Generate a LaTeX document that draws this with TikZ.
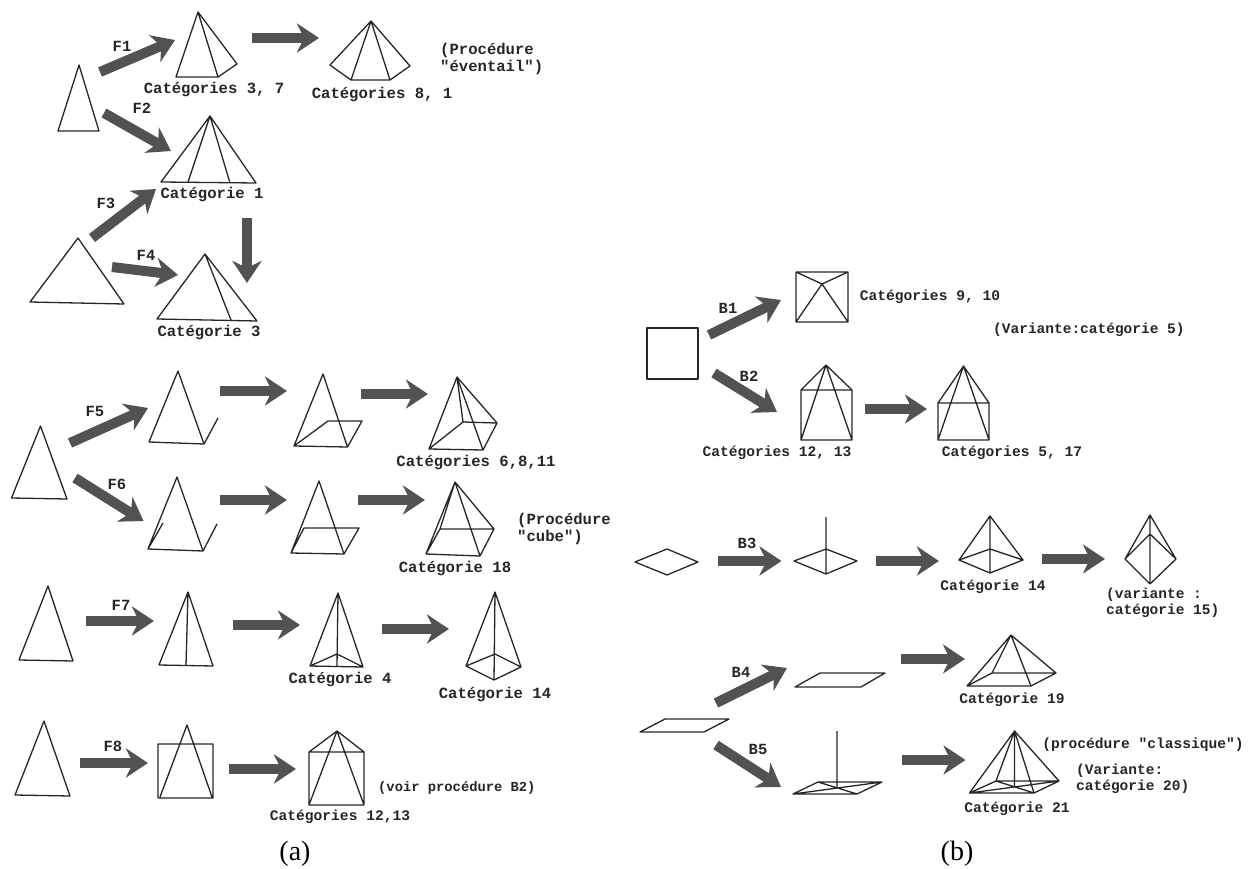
\documentclass[tikz,border=0pt]{standalone}
\usepackage{fontspec}
\setmainfont{Liberation Serif}
\setmonofont{Liberation Mono}
\usetikzlibrary{arrows.meta}

\tikzset{
  edgeline/.style={line width=1.3pt,draw=black!85,line join=round},
  fatarrow/.style={line width=10pt,draw=black!68,-{Stealth[length=22pt,width=29pt,inset=7pt]}},
  cattext/.style={font=\ttfamily\bfseries\fontsize{15.6}{17}\selectfont,text=black!85,inner sep=0pt},
  cattextb/.style={font=\ttfamily\bfseries\fontsize{14.6}{16}\selectfont,text=black!85,inner sep=0pt},
  notetext/.style={font=\ttfamily\bfseries\fontsize{14.5}{16}\selectfont,text=black!85,inner sep=0pt,align=left,anchor=west},
  notebig/.style={notetext,font=\ttfamily\bfseries\fontsize{15.6}{17.5}\selectfont},
  notesmall/.style={notetext,font=\ttfamily\bfseries\fontsize{13.8}{16}\selectfont},
  steptext/.style={font=\ttfamily\bfseries\fontsize{15.5}{17}\selectfont,text=black!85,inner sep=0pt},
  captext/.style={font=\fontsize{28}{30}\selectfont,inner sep=0pt}
}

\begin{document}
\begin{tikzpicture}[x=1pt,y=-1pt]
    \useasboundingbox (0,0) rectangle (1250,869);

    % panel (a), top group
    \draw[edgeline] (79,65) -- (58,131) -- (99,131) -- cycle;
    \coordinate (f1a) at (100,72); \coordinate (f1b) at (175,40);
    \draw[fatarrow] (f1a) -- (f1b);
    \node[steptext] (labF1) at (122,46) {F1};
    \draw[edgeline] (198,12) -- (176,77) -- (218,77) -- (237,64) -- cycle (198,12) -- (218,77);
    \node[cattext] (cat37) at (214,90) {Catégories 3, 7};
    \coordinate (g1a) at (252,38); \coordinate (g1b) at (319,38);
    \draw[fatarrow] (g1a) -- (g1b);
    \draw[edgeline] (371,21) -- (330,65) -- (351,80) -- (390,80) -- (410,66) -- cycle (351,80) -- (371,21) -- (390,80);
    \node[cattext] (cat81) at (382,95) {Catégories 8, 1};
    \node[notebig] (noteFan) at (440,59) {(Procédure\\"éventail")};

    \coordinate (f2a) at (104,113); \coordinate (f2b) at (171,151);
    \draw[fatarrow] (f2a) -- (f2b);
    \node[steptext] (labF2) at (142,108) {F2};
    \draw[edgeline] (210,116) -- (161,182) -- (256,183) -- cycle (188,182) -- (210,116) -- (230,183);
    \node[cattext] (cat1) at (212,195) {Catégorie 1};

    \draw[edgeline] (78,238) -- (30,302) -- (124,304) -- cycle;
    \coordinate (f3a) at (92,238); \coordinate (f3b) at (156,189);
    \draw[fatarrow] (f3a) -- (f3b);
    \node[steptext] (labF3) at (106,203) {F3};
    \coordinate (f4a) at (112,267); \coordinate (f4b) at (178,275);
    \draw[fatarrow] (f4a) -- (f4b);
    \node[steptext] (labF4) at (146,255) {F4};
    \coordinate (g2a) at (247,218); \coordinate (g2b) at (247,283);
    \draw[fatarrow] (g2a) -- (g2b);
    \draw[edgeline] (205,254) -- (157,319) -- (257,321) -- cycle (205,254) -- (231,320);
    \node[cattext] (cat3) at (209,332) {Catégorie 3};

    % panel (a), F5 and F6
    \draw[edgeline] (40.5,426) -- (11.5,498) -- (67,499) -- cycle;
    \coordinate (f5a) at (70,443); \coordinate (f5b) at (148,408);
    \draw[fatarrow] (f5a) -- (f5b);
    \node[steptext] (labF5) at (95,411) {F5};
    \draw[edgeline] (178,371) -- (149,442) -- (204,444) -- cycle (204,444) -- (218,418);
    \coordinate (g3a) at (220,391); \coordinate (g3b) at (287,391);
    \draw[fatarrow] (g3a) -- (g3b);
    \draw[edgeline] (323,374) -- (294,446) -- (347.5,447) -- cycle (294,446) -- (328,421) -- (362,421) -- (347.5,447);
    \coordinate (g4a) at (361,394); \coordinate (g4b) at (428,394);
    \draw[fatarrow] (g4a) -- (g4b);
    \draw[edgeline] (457,377) -- (429,449) -- (483,450) -- cycle (457,377) -- (497,423) -- (483,450)
      (457,377) -- (463,422) -- (429,449) (463,422) -- (497,423);
    \node[cattext] (cat6811) at (476,462) {Catégories 6,8,11};

    \coordinate (f6a) at (75,478); \coordinate (f6b) at (143.5,521);
    \draw[fatarrow] (f6a) -- (f6b);
    \node[steptext] (labF6) at (117,484) {F6};
    \draw[edgeline] (177,477) -- (148,549) -- (203,551) -- cycle (203,551) -- (217,524) (148,549) -- (163,523);
    \coordinate (g5a) at (220,500); \coordinate (g5b) at (287,500);
    \draw[fatarrow] (g5a) -- (g5b);
    \draw[edgeline] (319,481) -- (291,553) -- (344,554) -- cycle (291,553) -- (304,528) -- (359,528) -- (344,554);
    \coordinate (g6a) at (358,500); \coordinate (g6b) at (425,500);
    \draw[fatarrow] (g6a) -- (g6b);
    \draw[edgeline] (455,482) -- (426,554) -- (480,556) -- cycle (455,482) -- (494,529) -- (480,556)
      (455,482) -- (440,529) -- (426,554) (440,529) -- (494,529);
    \node[cattext] (cat18) at (455,568) {Catégorie 18};
    \node[notebig] (noteCube) at (517,529) {(Procédure\\"cube")};

    % panel (a), F7 and F8
    \draw[edgeline] (48,586) -- (19,660) -- (73,661) -- cycle;
    \coordinate (f7a) at (86,621); \coordinate (f7b) at (154,621);
    \draw[fatarrow] (f7a) -- (f7b);
    \node[steptext] (labF7) at (121,605) {F7};
    \draw[edgeline] (188,592) -- (159,665) -- (213,666) -- cycle (188,592) -- (186,666);
    \coordinate (g7a) at (233,625); \coordinate (g7b) at (300,625);
    \draw[fatarrow] (g7a) -- (g7b);
    \draw[edgeline] (338,593) -- (310,666) -- (363,667) -- cycle (338,593) -- (337,666) (310,666) -- (337,654) -- (363,667);
    \node[cattext] (cat4) at (340,679) {Catégorie 4};
    \coordinate (g8a) at (382,629); \coordinate (g8b) at (449,629);
    \draw[fatarrow] (g8a) -- (g8b);
    \draw[edgeline] (495,592) -- (466,666) -- (494,680) -- (521,667) -- cycle (495,592) -- (494,680) (466,666) -- (495,654) -- (521,667);
    \node[cattext] (cat14a) at (495,694) {Catégorie 14};

    \draw[edgeline] (44,721) -- (15,795) -- (70,796) -- cycle;
    \coordinate (f8a) at (80,763); \coordinate (f8b) at (148,763);
    \draw[fatarrow] (f8a) -- (f8b);
    \node[steptext] (labF8) at (113,746) {F8};
    \draw[edgeline] (158,744) rectangle (213,798) (160,797) -- (187,725) -- (212,797);
    \coordinate (g9a) at (229,769); \coordinate (g9b) at (296,769);
    \draw[fatarrow] (g9a) -- (g9b);
    \draw[edgeline] (309,752) rectangle (364,805) (309,752) -- (337,731) -- (364,752) (309,805) -- (337,731) -- (364,805);
    \node[notesmall] (noteB2) at (378,788) {(voir procédure B2)};
    \node[cattextb] (cat1213a) at (340,817) {Catégories 12,13};
    \node[captext] (capA) at (295,854) {(a)};

    % panel (b), B1 and B2
    \draw[edgeline] (647,328) rectangle (698,379);
    \coordinate (b1a) at (709,335); \coordinate (b1b) at (781,300);
    \draw[fatarrow] (b1a) -- (b1b);
    \node[steptext] (labB1) at (728,308) {B1};
    \draw[edgeline] (796,272) rectangle (848,322) (796,272) -- (822,284) -- (848,272) (796,322) -- (822,284) -- (848,322);
    \node[cattextb] (cat910) at (930,297) {Catégories 9, 10};
    \node[notetext] (noteVar5) at (993,330) {(Variante:catégorie 5)};
    \coordinate (b2a) at (714,373); \coordinate (b2b) at (777,412);
    \draw[fatarrow] (b2a) -- (b2b);
    \node[steptext] (labB2) at (749,376) {B2};
    \draw[edgeline] (801,390) rectangle (852,440) (801,390) -- (826,365) -- (852,390) (801,440) -- (826,365) -- (852,440);
    \node[cattextb] (cat1213b) at (777,453) {Catégories 12, 13};
    \coordinate (h1a) at (865,409); \coordinate (h1b) at (927,409);
    \draw[fatarrow] (h1a) -- (h1b);
    \draw[edgeline] (938,403) rectangle (989,440) (938,403) -- (963.5,366) -- (989,403) (938,440) -- (963.5,366) -- (989,440);
    \node[cattextb] (cat517) at (1012,453) {Catégories 5, 17};

    % panel (b), B3
    \draw[edgeline] (635,562) -- (667,549) -- (698,562) -- (667,575) -- cycle;
    \coordinate (b3a) at (718,561); \coordinate (b3b) at (781.5,561);
    \draw[fatarrow] (b3a) -- (b3b);
    \node[steptext] (labB3) at (747,543) {B3};
    \draw[edgeline] (794,561) -- (826,549) -- (857,561) -- (826,574) -- cycle (826,517) -- (826,574);
    \coordinate (h2a) at (876,561); \coordinate (h2b) at (939,561);
    \draw[fatarrow] (h2a) -- (h2b);
    \draw[edgeline] (990,516) -- (959,560) -- (990,573) -- (1023,560) -- cycle (990,516) -- (990,573) (959,560) -- (990,549) -- (1023,560);
    \node[cattextb] (cat14b) at (993,587) {Catégorie 14};
    \coordinate (h3a) at (1042,559); \coordinate (h3b) at (1105,559);
    \draw[fatarrow] (h3a) -- (h3b);
    \draw[edgeline] (1150,515) -- (1125,559) -- (1150,584) -- (1176,559) -- cycle (1150,515) -- (1150,584) (1125,559) -- (1150,534) -- (1176,559);
    \node[notetext] (noteVar15) at (1106,603) {(variante :\\catégorie 15)};

    % panel (b), B4 and B5
    \draw[edgeline] (640,732) -- (704,732) -- (729,719) -- (665,719) -- cycle;
    \coordinate (b4a) at (716,703); \coordinate (b4b) at (787,668);
    \draw[fatarrow] (b4a) -- (b4b);
    \node[steptext] (labB4) at (741,672) {B4};
    \draw[edgeline] (795,687) -- (861,687) -- (885,673) -- (820,673) -- cycle;
    \coordinate (h4a) at (901,659); \coordinate (h4b) at (965,659);
    \draw[fatarrow] (h4a) -- (h4b);
    \draw[edgeline] (967,686) -- (1031,686) -- (1056,673) -- (992,673) -- cycle
      (967,686) -- (1011,635) -- (1056,673) (992,673) -- (1011,635) -- (1031,686);
    \node[cattextb] (cat19) at (1012,700) {Catégorie 19};

    \coordinate (b5a) at (716,745); \coordinate (b5b) at (781,787);
    \draw[fatarrow] (b5a) -- (b5b);
    \node[steptext] (labB5) at (758,749) {B5};
    \draw[edgeline] (793,794) -- (857,794) -- (882,782) -- (818,782) -- cycle
      (818,782) -- (857,794) (793,794) -- (882,782) (837,731) -- (837,787);
    \coordinate (h5a) at (902,760); \coordinate (h5b) at (965.5,760);
    \draw[fatarrow] (h5a) -- (h5b);
    \draw[edgeline] (969.5,793) -- (1034,793) -- (1059,781) -- (996,781) -- cycle
      (996,781) -- (1034,793) (969.5,793) -- (1059,781)
      (969.5,793) -- (1014.5,731) -- (1059,781) (996,781) -- (1014.5,731) -- (1034,793) (1014.5,731) -- (1014.5,787);
    \node[cattextb] (noteClassic) at (1143,745) {(procédure "classique")};
    \node[notetext] (noteVar20) at (1076,779) {(Variante:\\catégorie 20)};
    \node[cattextb] (cat21) at (1017,809) {Catégorie 21};
    \node[captext] (capB) at (957,854) {(b)};
  \end{tikzpicture}
\end{document}
